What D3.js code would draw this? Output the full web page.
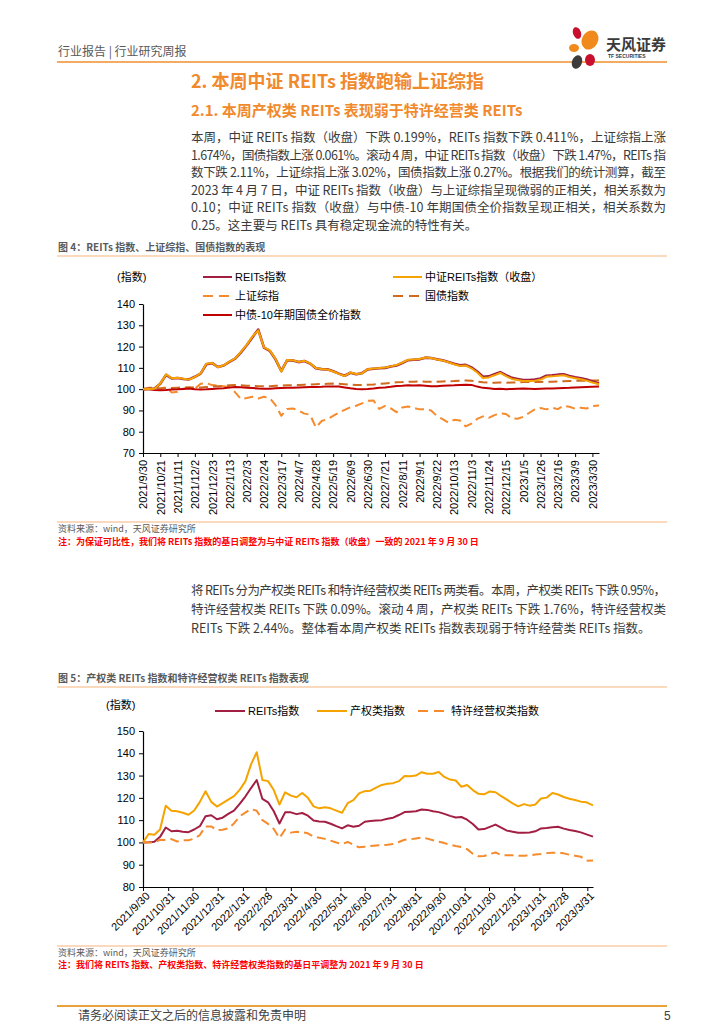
<!DOCTYPE html>
<html><head><meta charset="utf-8">
<script src="https://cdn.jsdelivr.net/npm/d3@7"></script>
<style>
body{margin:0;background:#fff;}
svg{display:block;}
</style></head><body>
<svg id="page" width="724" height="1024"></svg>
<script>
// ---------------- DATA ----------------
const weekDates = ["2021-09-30","2021-10-07","2021-10-14","2021-10-21","2021-10-28","2021-11-04","2021-11-11","2021-11-18","2021-11-25","2021-12-02",
"2021-12-09","2021-12-16","2021-12-23","2021-12-30","2022-01-06","2022-01-13","2022-01-20","2022-01-27","2022-02-03","2022-02-10",
"2022-02-17","2022-02-24","2022-03-03","2022-03-10","2022-03-17","2022-03-24","2022-03-31","2022-04-07","2022-04-14","2022-04-21",
"2022-04-28","2022-05-05","2022-05-12","2022-05-19","2022-05-26","2022-06-02","2022-06-09","2022-06-16","2022-06-23","2022-06-30",
"2022-07-07","2022-07-14","2022-07-21","2022-07-28","2022-08-04","2022-08-11","2022-08-18","2022-08-25","2022-09-01","2022-09-08",
"2022-09-15","2022-09-22","2022-09-29","2022-10-06","2022-10-13","2022-10-20","2022-10-27","2022-11-03","2022-11-10","2022-11-17",
"2022-11-24","2022-12-01","2022-12-08","2022-12-15","2022-12-22","2022-12-29","2023-01-05","2023-01-12","2023-01-19","2023-01-26",
"2023-02-02","2023-02-09","2023-02-16","2023-02-23","2023-03-02","2023-03-09","2023-03-16","2023-03-23","2023-03-30","2023-04-07"];

const reitsIndex = [100,100.1,100.3,102.5,106.7,105,105.2,104.8,104.6,105.8,
107.3,111.7,112.2,110.4,111.1,112.8,114.3,117.3,120.6,124.4,
128,119.5,118,114,108.5,113.5,113.5,112.7,113.2,112,
109.8,109.4,109.3,108.4,107.3,106.3,107.7,107,107.5,109.3,
109.6,109.8,110,110.6,111.1,112.3,113.6,113.8,114,114.8,
114.6,114,113.6,112.8,111.9,111.2,111.4,110.2,108.3,105.8,
106,107,108,106.6,105.3,104.8,104.3,104.3,104.5,105,
106.3,106.5,106.8,107,106.2,105.6,105.1,104.5,103.6,102.6];

const csiReitsClose = [100,100.1,100.2,102.6,106.9,105.1,105.3,104.9,104.5,105.7,
107.4,111.9,112.3,110.3,111.2,112.9,114.4,117.5,120.8,124.8,
127.6,119.6,118.2,114.2,108.3,113.7,113.6,112.8,113.3,112.1,
109.9,109.5,109.2,108.3,107.2,106.2,107.8,107.1,107.4,109.4,
109.7,109.9,110.2,110.7,111.3,112.5,113.8,113.9,114.2,114.9,
114.6,113.9,113.5,112.6,111.7,110.9,111.1,109.8,107.8,105.2,
105.5,106.5,107.6,106.1,104.8,104.3,103.8,103.8,104,104.5,
105.8,106,106.3,106.5,105.7,105.1,104.6,104,103.1,102.3];

const shComposite = [100,100.7,100.6,100.3,100.8,98.4,98.8,100.2,100.7,100.2,
102.5,102.8,101.9,101.6,101.4,100.9,98.5,95.3,95.8,96.4,
95.6,96.4,95.8,92.5,87.5,90.7,90.9,90,88.5,88,
82,85,85.9,87.4,89,90.3,91.5,92.2,93.3,94.5,
94.7,90.7,92.1,91,89.2,91.4,91.8,91.2,90.5,90.5,
90,87.4,85.9,84.3,85.6,85.3,82.5,83.8,86,87.2,
86.5,87.8,88.6,88.3,86.3,86.1,87,88.8,90.5,91.1,
90.5,91.3,90.6,92.2,91.7,90.8,91.3,90.9,92,92.3];

const treasuryIndex = [100,100.2,100.3,100.3,100.4,100.5,100.7,100.8,100.9,100.8,
100.8,101,101.2,101.4,101.5,101.8,101.9,101.8,101.6,101.5,
101.4,101.4,101.4,101.6,101.7,101.8,101.9,102,102.1,102.2,
102.3,102.4,102.5,102.6,102.5,102.3,102.1,102,102,102.1,
102.2,102.5,102.7,102.9,103.2,103.3,103.5,103.5,103.6,103.5,
103.5,103.5,103.6,103.7,103.8,104,104.1,104,103.5,103.2,
103.1,103,103.1,103,103.1,103.2,103.3,103.3,103.3,103.4,
103.5,103.5,103.6,103.7,103.8,103.9,104,104,104.1,104.1];

const cgb10yClean = [100,99.9,99.6,99.5,99.6,99.8,99.9,100.1,100.3,100,
99.8,99.9,100.1,100.3,100.4,100.8,101,100.9,100.7,100.5,
100.3,100.2,100.2,100.4,100.5,100.6,100.6,100.8,100.9,101,
101,101.1,101.3,101.3,101.2,100.8,100.4,100.1,100,100.1,
100.3,100.6,100.8,101.1,101.5,101.6,101.8,101.7,101.8,101.6,
101.4,101.4,101.6,101.7,101.8,102,102.1,102,101.2,100.6,
100.4,100.1,100.2,100,100.1,100.2,100.3,100.2,100.1,100.2,
100.3,100.3,100.4,100.5,100.6,100.8,100.9,101,101.1,101.2];

const propertyIndex = [100,103.8,103.4,105.8,116.5,114.2,114,113.3,112.4,114.3,
118.2,123,118.2,116.1,117.6,119.2,120.8,123.6,127.4,135,
140.5,128,127.5,123.5,117,122.5,121,120.3,122.2,120,
116.2,115.3,115.8,115.3,114.3,113.3,117.6,119,122,123,
123.2,124.6,125.8,126.3,126.6,127.5,129.8,129.7,130,131.5,
130.8,130.8,131.6,129.4,128.2,127.8,125,125.8,123.5,121.8,
121.6,122.9,122.5,120.8,119.2,117.5,116.2,117.2,116.5,117,
119.7,120.1,122.2,121.5,120.4,119.6,119,118.3,118,116.6];

const franchiseIndex = [100,100,100,101.2,101.1,101.5,100.4,101,101,101.7,
103.3,107.2,107.2,105.5,105.7,106.3,108.5,111.7,113.4,115,
114.2,110,108.3,106,102,105.8,104.4,104.8,104.6,104.1,
102.5,102.1,101.6,100.8,100,99.3,100.2,98.9,97.8,98.1,
98.4,98.6,98.8,99,99.3,100.2,101.2,101.4,101.8,102.2,
101.7,101,100.3,99.7,99,98.4,97.9,97,94.9,93.8,
93.9,94.8,95.5,94.3,94.3,94.2,94,94,94.2,94.6,
94.8,95.2,95.4,95.4,95.1,94.5,94,93.6,91.8,91.9];

const chart1TickLabels = ["2021/9/30","2021/10/21","2021/11/11","2021/12/2","2021/12/23","2022/1/13","2022/2/3","2022/2/24","2022/3/17","2022/4/7","2022/4/28","2022/5/19","2022/6/9","2022/6/30","2022/7/21","2022/8/11","2022/9/1","2022/9/22","2022/10/13","2022/11/3","2022/11/24","2022/12/15","2023/1/5","2023/1/26","2023/2/16","2023/3/9","2023/3/30"];
const chart2TickLabels = ["2021/9/30","2021/10/31","2021/11/30","2021/12/31","2022/1/31","2022/2/28","2022/3/31","2022/4/30","2022/5/31","2022/6/30","2022/7/31","2022/8/31","2022/9/30","2022/10/31","2022/11/30","2022/12/31","2023/1/31","2023/2/28","2023/3/31"];
const chart1YTicks = [70,80,90,100,110,120,130,140];
const chart2YTicks = [80,90,100,110,120,130,140,150];

const chart1Names = ["REITs指数","中证REITs指数（收盘）","上证综指","国债指数","中债-10年期国债全价指数"];
const chart2Names = ["REITs指数","产权类指数","特许经营权类指数"];

// ---------------- STYLES ----------------
const CJK = "'Noto Sans CJK SC','Noto Sans',sans-serif";
const LAT = "'Liberation Sans',Arial,'Noto Sans CJK SC',sans-serif";
const C_REITS = "#A21F43", C_GOLD = "#F5A300", C_SH = "#F58B2C", C_TB = "#CF6A1E", C_CGB = "#C00000", C_ORANGE_RULE = "#EF8F2E";

const svg = d3.select("#page");
const parse = d3.timeParse("%Y-%m-%d");
const parseLbl = d3.timeParse("%Y/%m/%d");
const dates = weekDates.map(parse);

function txt(x, y, s, o = {}) {
  const t = svg.append("text").attr("x", x).attr("y", y).text(s)
    .style("font-family", o.family || CJK).style("font-size", (o.size || 12) + "px")
    .style("fill", o.fill || "#333").style("font-weight", o.weight || "normal");
  if (o.anchor) t.attr("text-anchor", o.anchor);
  if (o.len) t.attr("textLength", o.len).attr("lengthAdjust", "spacing");
  return t;
}
function rule(x1, x2, y, color, w) {
  svg.append("line").attr("x1", x1).attr("x2", x2).attr("y1", y).attr("y2", y)
    .attr("stroke", color).attr("stroke-width", w);
}

// ---------------- HEADER ----------------
txt(58, 56, "行业报告 | 行业研究周报", {size: 12, fill: "#595959"});
rule(57, 667, 62, C_ORANGE_RULE, 1.5);
// logo
const logo = svg.append("g");
logo.append("ellipse").attr("cx", 577).attr("cy", 33).attr("rx", 4).attr("ry", 6).attr("fill", "#C8102E").attr("transform", "rotate(-20,577,33)");
logo.append("ellipse").attr("cx", 590).attr("cy", 40).attr("rx", 8).attr("ry", 10).attr("fill", "#F08A1C").attr("transform", "rotate(30,590,40)");
logo.append("ellipse").attr("cx", 574).attr("cy", 48).attr("rx", 5).attr("ry", 4).attr("fill", "#F08A1C");
logo.append("ellipse").attr("cx", 577).attr("cy", 62).attr("rx", 5).attr("ry", 7).attr("fill", "#3C3C3C").attr("transform", "rotate(20,577,62)");
logo.append("ellipse").attr("cx", 590).attr("cy", 60).attr("rx", 5).attr("ry", 6).attr("fill", "#C8102E");
txt(606, 50, "天风证券", {size: 15, weight: "bold", fill: "#3A3A3A"});
txt(608, 58, "TF SECURITIES", {size: 5, family: LAT, fill: "#3A3A3A", weight: "bold"});

// ---------------- SECTION TEXT ----------------
txt(191, 88, "2. 本周中证 REITs 指数跑输上证综指", {size: 18, weight: "bold", fill: "#F08A2C"});
txt(191, 116, "2.1. 本周产权类 REITs 表现弱于特许经营类 REITs", {size: 15, weight: "bold", fill: "#F08A2C"});

const para1 = [
  "本周，中证 REITs 指数（收盘）下跌 0.199%，REITs 指数下跌 0.411%，上证综指上涨",
  "1.674%，国债指数上涨 0.061%。滚动 4 周，中证 REITs 指数（收盘）下跌 1.47%，REITs 指",
  "数下跌 2.11%，上证综指上涨 3.02%，国债指数上涨 0.27%。根据我们的统计测算，截至",
  "2023 年 4 月 7 日，中证 REITs 指数（收盘）与上证综指呈现微弱的正相关，相关系数为",
  "0.10；中证 REITs 指数（收盘）与中债-10 年期国债全价指数呈现正相关，相关系数为",
  "0.25。这主要与 REITs 具有稳定现金流的特性有关。"
];
para1.forEach((s, i) => txt(191, 142 + i * 17.6, s, {size: 12.5, fill: "#3A3A3A", len: i < para1.length - 1 ? 475 : null}));

// ---------------- CHART 1 ----------------
txt(58, 251, "图 4：REITs 指数、上证综指、国债指数的表现", {size: 10, weight: "bold", fill: "#595959"});
rule(57, 667, 256, "#F6B47A", 1.2);

const x1 = d3.scaleTime().domain([parse("2021-09-30"), parse("2023-04-07")]).range([143, 599]);
const y1 = d3.scaleLinear().domain([70, 140]).range([453, 304]);

txt(117, 281, "(指数)", {size: 11, family: LAT, fill: "#000"});

const g1 = svg.append("g");
const yAx1 = g1.append("g").attr("transform", "translate(143,0)")
  .call(d3.axisLeft(y1).tickValues(chart1YTicks).tickSize(4).tickSizeOuter(0).tickFormat(d3.format("d")));
const xAx1 = g1.append("g").attr("transform", "translate(0,453)")
  .call(d3.axisBottom(x1).tickValues(chart1TickLabels.map(parseLbl)).tickSize(4).tickSizeOuter(0)
  .tickFormat((d, i) => chart1TickLabels[i]));
[yAx1, xAx1].forEach(a => {
  a.select(".domain").attr("stroke", "#000").attr("stroke-width", 1.2);
  a.selectAll(".tick line").attr("stroke", "#000");
  a.selectAll("text").style("font-family", LAT).style("font-size", "11px").attr("fill", "#000");
});
yAx1.selectAll("text").attr("x", -8);
xAx1.selectAll("text").attr("transform", "rotate(-90)").attr("text-anchor", "end")
  .attr("x", -7).attr("y", 0).attr("dy", "0.35em");

const line1 = arr => d3.line().x((d, i) => x1(dates[i])).y(d => y1(d))(arr);
const series1 = [
  {v: shComposite, c: C_SH, w: 2, dash: "9,5"},
  {v: treasuryIndex, c: C_TB, w: 2, dash: "9,5"},
  {v: cgb10yClean, c: C_CGB, w: 2},
  {v: reitsIndex, c: C_REITS, w: 2.6},
  {v: csiReitsClose, c: C_GOLD, w: 2}
];
series1.forEach(s => g1.append("path").attr("d", line1(s.v)).attr("fill", "none")
  .attr("stroke", s.c).attr("stroke-width", s.w).attr("stroke-dasharray", s.dash || null)
  .attr("stroke-linejoin", "round"));

// legend 1
const leg1 = [
  {n: chart1Names[0], c: C_REITS, x: 203, y: 277},
  {n: chart1Names[1], c: C_GOLD, x: 393, y: 277},
  {n: chart1Names[2], c: C_SH, x: 203, y: 296, dash: "10,6"},
  {n: chart1Names[3], c: C_TB, x: 393, y: 296, dash: "10,6"},
  {n: chart1Names[4], c: C_CGB, x: 203, y: 315}
];
leg1.forEach(l => {
  g1.append("line").attr("x1", l.x).attr("x2", l.x + 29).attr("y1", l.y).attr("y2", l.y)
    .attr("stroke", l.c).attr("stroke-width", 2).attr("stroke-dasharray", l.dash || null);
  txt(l.x + 32, l.y + 4, l.n, {size: 11, family: LAT, fill: "#000"});
});

rule(57, 667, 522, "#F6B47A", 1.2);
txt(58, 532, "资料来源：wind，天风证券研究所", {size: 9, fill: "#595959"});
txt(58, 545, "注：为保证可比性，我们将 REITs 指数的基日调整为与中证 REITs 指数（收盘）一致的 2021 年 9 月 30 日", {size: 9, weight: "bold", fill: "#FF0000"});

// ---------------- PARAGRAPH 2 ----------------
const para2 = [
  "将 REITs 分为产权类 REITs 和特许经营权类 REITs 两类看。本周，产权类 REITs 下跌 0.95%，",
  "特许经营权类 REITs 下跌 0.09%。滚动 4 周，产权类 REITs 下跌 1.76%，特许经营权类",
  "REITs 下跌 2.44%。整体看本周产权类 REITs 指数表现弱于特许经营类 REITs 指数。"
];
para2.forEach((s, i) => txt(191, 595 + i * 19, s, {size: 12.5, fill: "#3A3A3A", len: i < para2.length - 1 ? 475 : null}));

// ---------------- CHART 2 ----------------
txt(58, 682, "图 5：产权类 REITs 指数和特许经营权类 REITs 指数表现", {size: 10, weight: "bold", fill: "#595959"});
rule(57, 667, 687, "#F6B47A", 1.2);

const x2 = d3.scaleTime().domain([parse("2021-09-30"), parse("2023-04-07")]).range([143, 593]);
const y2 = d3.scaleLinear().domain([80, 150]).range([887, 731]);

txt(106, 709, "(指数)", {size: 11, family: LAT, fill: "#000"});

const g2 = svg.append("g");
const yAx2 = g2.append("g").attr("transform", "translate(143,0)")
  .call(d3.axisLeft(y2).tickValues(chart2YTicks).tickSize(4).tickSizeOuter(0).tickFormat(d3.format("d")));
const xAx2 = g2.append("g").attr("transform", "translate(0,887)")
  .call(d3.axisBottom(x2).tickValues(chart2TickLabels.map(parseLbl)).tickSize(4).tickSizeOuter(0)
  .tickFormat((d, i) => chart2TickLabels[i]));
[yAx2, xAx2].forEach(a => {
  a.select(".domain").attr("stroke", "#000").attr("stroke-width", 1.2);
  a.selectAll(".tick line").attr("stroke", "#000");
  a.selectAll("text").style("font-family", LAT).style("font-size", "11px").attr("fill", "#000");
});
yAx2.selectAll("text").attr("x", -8);
xAx2.selectAll("text").attr("transform", "rotate(-45)").attr("text-anchor", "end")
  .attr("x", -2).attr("y", 8).attr("dy", "0.35em");

const line2 = arr => d3.line().x((d, i) => x2(dates[i])).y(d => y2(d))(arr);
const series2 = [
  {v: reitsIndex, c: C_REITS, w: 2},
  {v: propertyIndex, c: C_GOLD, w: 2},
  {v: franchiseIndex, c: C_SH, w: 2, dash: "9,5"}
];
series2.forEach(s => g2.append("path").attr("d", line2(s.v)).attr("fill", "none")
  .attr("stroke", s.c).attr("stroke-width", s.w).attr("stroke-dasharray", s.dash || null)
  .attr("stroke-linejoin", "round"));

const leg2 = [
  {n: chart2Names[0], c: C_REITS, x: 215},
  {n: chart2Names[1], c: C_GOLD, x: 317},
  {n: chart2Names[2], c: C_SH, x: 418, dash: "10,6"}
];
leg2.forEach(l => {
  g2.append("line").attr("x1", l.x).attr("x2", l.x + 30).attr("y1", 711).attr("y2", 711)
    .attr("stroke", l.c).attr("stroke-width", 2).attr("stroke-dasharray", l.dash || null);
  txt(l.x + 33, 715, l.n, {size: 11, family: LAT, fill: "#000"});
});

rule(57, 667, 946, "#F6B47A", 1.2);
txt(58, 956, "资料来源：wind，天风证券研究所", {size: 9, fill: "#595959"});
txt(58, 968, "注：我们将 REITs 指数、产权类指数、特许经营权类指数的基日平调整为 2021 年 9 月 30 日", {size: 9, weight: "bold", fill: "#FF0000"});

// ---------------- FOOTER ----------------
rule(57, 667, 1006, "#E9A23B", 2);
txt(78, 1020, "请务必阅读正文之后的信息披露和免责申明", {size: 12, fill: "#404040"});
txt(664, 1020, "5", {size: 12, family: LAT, fill: "#404040"});
</script>
</body></html>
